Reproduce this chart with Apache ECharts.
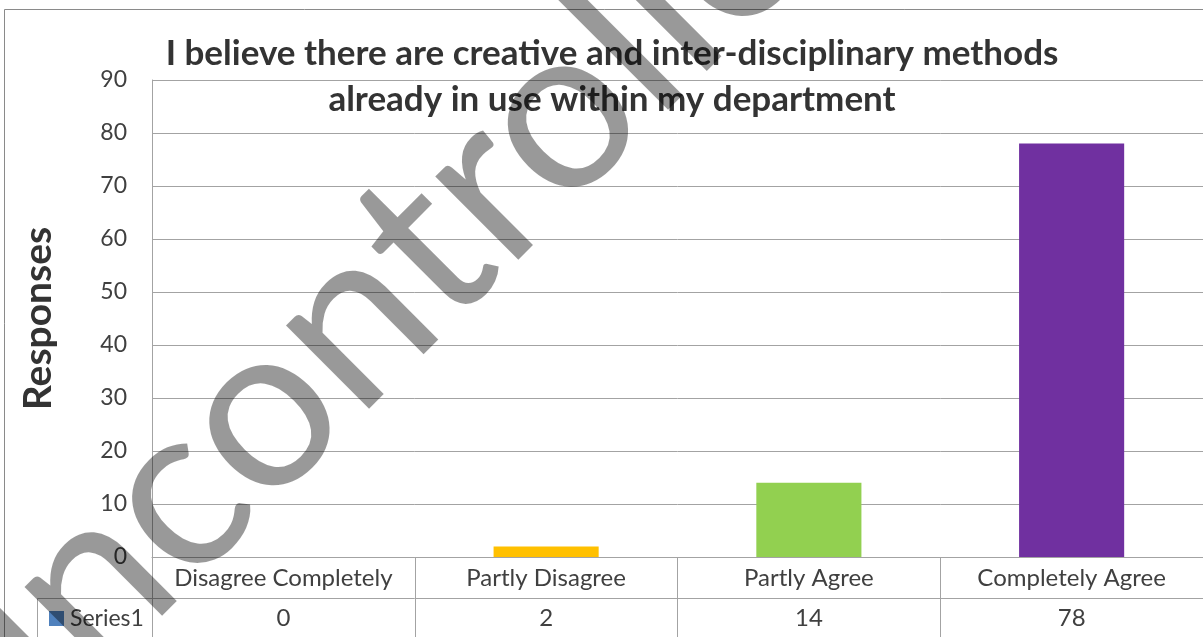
<!DOCTYPE html>
<html>
<head>
<meta charset="utf-8">
<script src="https://cdn.jsdelivr.net/npm/echarts@6/dist/echarts.min.js"></script>
<style>
    html, body { margin: 0; padding: 0; background: #fff; }
    #app { width: 1203px; height: 637px; }
</style>
</head>
<body>
<div id="app"></div>
<script>
    // chart data
    var categories = ['Disagree Completely', 'Partly Disagree', 'Partly Agree', 'Completely Agree'];
    var responses = [0, 2, 14, 78];
    var barColors = ['#4F81BD', '#FFC000', '#92D050', '#7030A0'];
    var yTicks = { min: 0, max: 90, interval: 10 };
    var seriesName = 'Series1';

    var gridColor = '#a3a3a3';
    var textColor = '#404040';
    var font = 'Lato';

    var myChart = echarts.init(document.getElementById('app'));
    var options = {
        backgroundColor: '#fff',
        animation: false,
        title: {
            text: 'I believe there are creative and inter-disciplinary methods\nalready in use within my department',
            left: 607,
            top: 26,
            textAlign: 'center',
            textStyle: {
                fontFamily: font,
                fontSize: 35,
                fontWeight: 'bold',
                color: '#333',
                lineHeight: 46
            }
        },
        legend: {
            data: [seriesName],
            left: 44,
            top: 602,
            icon: 'rect',
            itemWidth: 15,
            itemHeight: 15,
            itemGap: 6,
            textStyle: { fontFamily: font, fontSize: 23, color: textColor, padding: [0, 0, 0, 1] }
        },
        grid: { left: 152, right: -5, top: 80, bottom: 80 },
        xAxis: [
            {
                type: 'category',
                data: categories,
                position: 'bottom',
                axisLine: { lineStyle: { color: gridColor } },
                axisTick: { show: true, interval: 0, length: 80, lineStyle: { color: gridColor } },
                axisLabel: { interval: 0, fontFamily: font, fontSize: 24, color: textColor, margin: 9 }
            },
            {
                type: 'category',
                data: responses.map(String),
                position: 'bottom',
                offset: 41,
                axisLine: { lineStyle: { color: gridColor } },
                axisTick: { show: false },
                axisLabel: { interval: 0, fontFamily: font, fontSize: 24, color: textColor, margin: 8 }
            }
        ],
        yAxis: {
            type: 'value',
            min: yTicks.min,
            max: yTicks.max,
            interval: yTicks.interval,
            name: 'Responses',
            nameLocation: 'middle',
            nameGap: 94,
            nameTextStyle: { fontFamily: font, fontSize: 39, fontWeight: 'bold', color: '#333' },
            axisLine: { show: true, lineStyle: { color: gridColor } },
            axisTick: { show: false },
            splitLine: { lineStyle: { color: gridColor } },
            axisLabel: { fontFamily: font, fontSize: 23, color: textColor, margin: 25 }
        },
        series: [
            {
                name: seriesName,
                type: 'bar',
                xAxisIndex: 0,
                barWidth: '40%',
                itemStyle: { color: barColors[0] },
                data: responses.map(function (v, i) {
                    return { value: v, itemStyle: { color: barColors[i] } };
                })
            }
        ],
        graphic: [
            {
                type: 'rect',
                shape: { x: 4.5, y: 9.5, width: 1300, height: 700 },
                style: { fill: null, stroke: '#8a8a8a', lineWidth: 1 },
                silent: true
            },
            {
                type: 'line',
                shape: { x1: 37.5, y1: 598.5, x2: 152, y2: 598.5 },
                style: { stroke: gridColor, lineWidth: 1 }
            },
            {
                type: 'line',
                shape: { x1: 37.5, y1: 598.5, x2: 37.5, y2: 640 },
                style: { stroke: gridColor, lineWidth: 1 }
            },
            {
                // watermark
                type: 'text',
                x: 392,
                y: 280,
                rotation: Math.PI / 4,
                z: 100,
                silent: true,
                style: {
                    text: 'Uncontrolled',
                    fontFamily: font,
                    fontSize: 232,
                    fill: 'rgba(0,0,0,0.4)',
                    align: 'center',
                    verticalAlign: 'middle'
                }
            }
        ]
    };
    myChart.setOption(options);
</script>
</body>
</html>
